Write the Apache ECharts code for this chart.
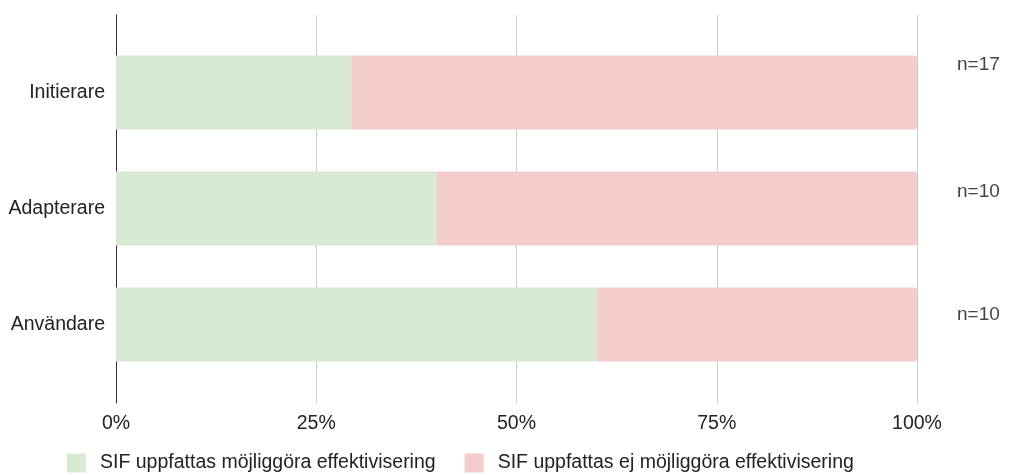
<!DOCTYPE html>
<html><head><meta charset="utf-8">
<script src="https://cdn.jsdelivr.net/npm/echarts@6/dist/echarts.min.js"></script>
<style>html,body{margin:0;padding:0;background:#fff}#c{width:1013px;height:475px}</style>
</head><body><div id="c"></div>
<script>
const categories = ['Initierare', 'Adapterare', 'Användare'];
const seriesNames = ['SIF uppfattas möjliggöra effektivisering', 'SIF uppfattas ej möjliggöra effektivisering'];
const positive = [29.4, 40, 60];
const negative = [70.6, 60, 40];
const nLabels = ['n=17', 'n=10', 'n=10'];
const tickLabels = ['0%', '25%', '50%', '75%', '100%'];

const font = 'Liberation Sans, Arial, sans-serif';
const fs = 19.5;
const nLabelOffsets = [[0, -28], [0, -17], [0, -10]];
const chart = echarts.init(document.getElementById('c'));
chart.setOption({
  animation: false,
  textStyle: { fontFamily: font },
  legend: {
    left: 62, top: 448, itemWidth: 19, itemHeight: 19, itemGap: 29,
    icon: 'rect',
    textStyle: { fontSize: fs, color: '#222', fontFamily: font, padding: [0, 0, 0, 9] },
    data: seriesNames
  },
  grid: [
    { left: 116, right: 96, top: 15, bottom: 72 },
    { left: 116, right: 96, top: 34.5, height: 348 }
  ],
  xAxis: [
    { gridIndex: 0, type: 'value', min: 0, max: 100, interval: 25,
      axisLine: { show: false }, axisTick: { show: false },
      splitLine: { lineStyle: { color: '#cccccc', width: 1 } },
      axisLabel: { margin: 11, fontSize: fs, color: '#222', fontFamily: font,
        formatter: v => tickLabels[Math.round(v / 25)] } },
    { gridIndex: 1, type: 'value', min: 0, max: 100, show: false }
  ],
  yAxis: [
    { gridIndex: 0, type: 'value', min: 0, max: 1,
      axisLine: { show: true, lineStyle: { color: '#333', width: 1 } },
      axisTick: { show: false }, axisLabel: { show: false }, splitLine: { show: false } },
    { gridIndex: 1, type: 'category', data: categories, inverse: true,
      axisLine: { show: false }, axisTick: { show: false },
      axisLabel: { margin: 11, fontSize: fs, color: '#222', fontFamily: font } }
  ],
  series: [
    { name: seriesNames[0], type: 'bar', stack: 's', xAxisIndex: 1, yAxisIndex: 1,
      barWidth: 74, data: positive, itemStyle: { color: '#d9ead3' } },
    { name: seriesNames[1], type: 'bar', stack: 's', xAxisIndex: 1, yAxisIndex: 1,
      barWidth: 74,
      data: negative.map((v, i) => ({ value: v, label: { formatter: nLabels[i], offset: nLabelOffsets[i] } })),
      itemStyle: { color: '#f4cccc', borderRadius: [0, 3, 3, 0] },
      label: { show: true, position: 'right', distance: 40,
        fontSize: 19, color: '#444', fontFamily: font } }
  ]
});
</script></body></html>
